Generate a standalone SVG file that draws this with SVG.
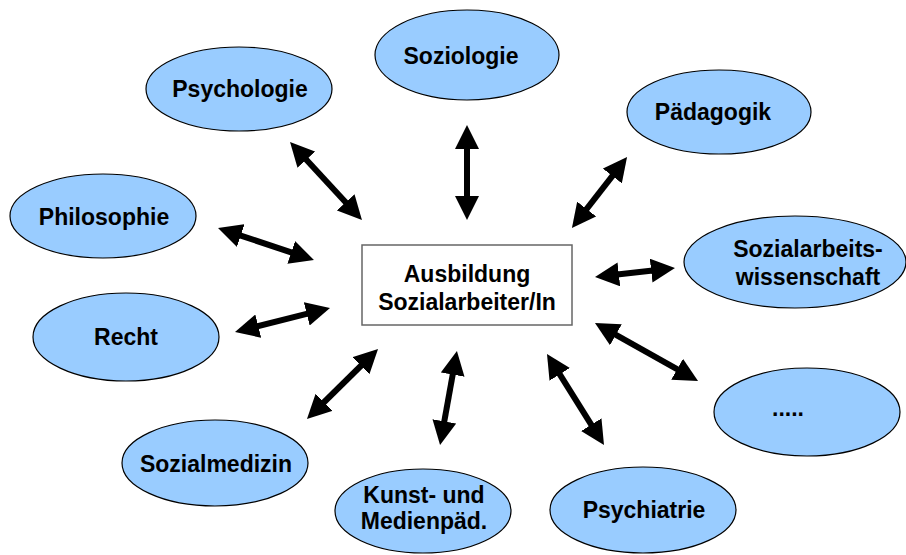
<svg xmlns="http://www.w3.org/2000/svg" width="906" height="555" viewBox="0 0 906 555">
<style>
.n{fill:#99CCFF;stroke:#000;stroke-width:1.2}
.t{font-family:"Liberation Sans",Arial,sans-serif;font-weight:bold;font-size:23px;fill:#000;text-anchor:middle}
.c line{stroke:#000;stroke-width:6}
</style>
<defs>
<marker id="ah" markerUnits="userSpaceOnUse" viewBox="0 0 24 24" markerWidth="24" markerHeight="24" refX="4" refY="12" orient="auto-start-reverse">
<path d="M0,0 L24,12 L0,24 Z" fill="#000"/>
</marker>
</defs>
<rect width="906" height="555" fill="#fff"/>
<g class="c" id="connectors">
<line x1="303.6" y1="156.7" x2="348.4" y2="205.3" marker-start="url(#ah)" marker-end="url(#ah)"/>
<line x1="467" y1="145" x2="467" y2="200" marker-start="url(#ah)" marker-end="url(#ah)"/>
<line x1="614.8" y1="172.8" x2="584.2" y2="212.2" marker-start="url(#ah)" marker-end="url(#ah)"/>
<line x1="237" y1="234.3" x2="295" y2="253.7" marker-start="url(#ah)" marker-end="url(#ah)"/>
<line x1="614.9" y1="274.8" x2="655.1" y2="270.2" marker-start="url(#ah)" marker-end="url(#ah)"/>
<line x1="254.4" y1="327.1" x2="310.6" y2="312.9" marker-start="url(#ah)" marker-end="url(#ah)"/>
<line x1="612.4" y1="332.8" x2="680.6" y2="371.2" marker-start="url(#ah)" marker-end="url(#ah)"/>
<line x1="363.8" y1="363" x2="321.2" y2="405" marker-start="url(#ah)" marker-end="url(#ah)"/>
<line x1="453.4" y1="370.7" x2="443.6" y2="425.3" marker-start="url(#ah)" marker-end="url(#ah)"/>
<line x1="557.6" y1="370.9" x2="593.4" y2="428.1" marker-start="url(#ah)" marker-end="url(#ah)"/>
</g>
<g id="center">
<rect x="362" y="245" width="210" height="80" fill="#fff" stroke="#666" stroke-width="1.5"/>
<text class="t" x="467" y="282">Ausbildung</text>
<text class="t" x="467" y="310">Sozialarbeiter/In</text>
</g>
<g id="psychologie"><ellipse class="n" cx="239" cy="89" rx="93" ry="42"/><text class="t" x="240" y="97">Psychologie</text></g>
<g id="soziologie"><ellipse class="n" cx="467" cy="55" rx="92" ry="45"/><text class="t" x="461" y="64">Soziologie</text></g>
<g id="paedagogik"><ellipse class="n" cx="719" cy="112" rx="92" ry="42"/><text class="t" x="713" y="120">Pädagogik</text></g>
<g id="philosophie"><ellipse class="n" cx="103" cy="216" rx="93" ry="42"/><text class="t" x="104" y="225">Philosophie</text></g>
<g id="sozialarbeitswissenschaft"><ellipse class="n" cx="795" cy="262" rx="111" ry="46"/><text class="t" x="808" y="257">Sozialarbeits-</text><text class="t" x="808" y="285">wissenschaft</text></g>
<g id="recht"><ellipse class="n" cx="126" cy="337" rx="93" ry="44"/><text class="t" x="126" y="345">Recht</text></g>
<g id="etc"><ellipse class="n" cx="807" cy="412" rx="93" ry="44"/><text class="t" x="788" y="416">.....</text></g>
<g id="sozialmedizin"><ellipse class="n" cx="215" cy="463" rx="93" ry="43"/><text class="t" x="216" y="472">Sozialmedizin</text></g>
<g id="kunst"><ellipse class="n" cx="423" cy="511" rx="88" ry="42"/><text class="t" x="424" y="503">Kunst- und</text><text class="t" x="424" y="529">Medienpäd.</text></g>
<g id="psychiatrie"><ellipse class="n" cx="643" cy="510" rx="93" ry="43"/><text class="t" x="644" y="518">Psychiatrie</text></g>
</svg>
